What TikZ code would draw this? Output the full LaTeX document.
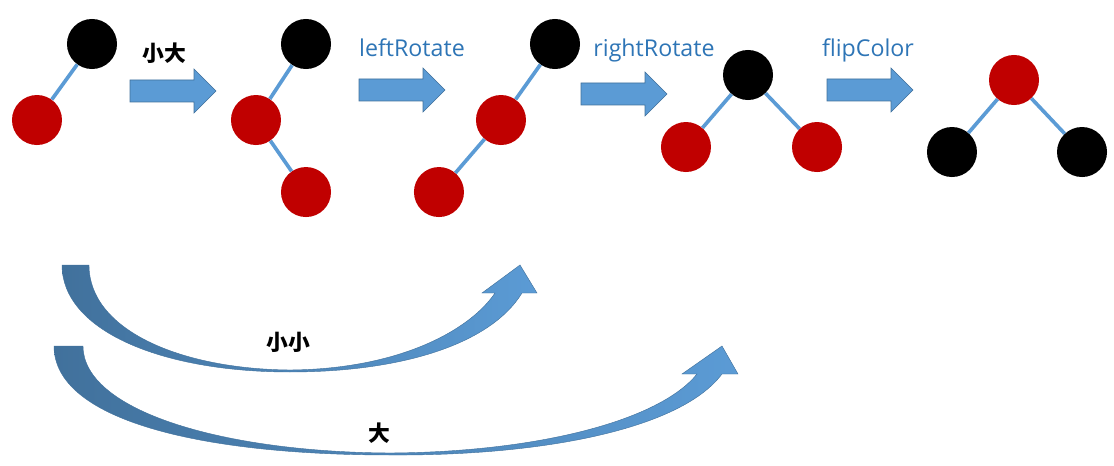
\documentclass[tikz,border=0pt]{standalone}
\usepackage{fontspec}
\setmainfont{Open Sans}
\newfontfamily\cjk{Noto Sans CJK SC}
\usetikzlibrary{positioning}
\definecolor{rbred}{RGB}{192,0,0}
\definecolor{linkblue}{RGB}{91,155,213}
\definecolor{darkblue}{RGB}{65,113,156}
\definecolor{textblue}{RGB}{46,117,182}
\newcommand*{\flatarrow}[2]{\filldraw[fill=linkblue,draw=darkblue,line width=0.4pt]
  (#1,#2-11) -- ++(64,0) -- ++(0,-11) -- ++(22,22) -- ++(-22,22) -- ++(0,-11) -- ++(-64,0) -- cycle;}

\begin{document}
\begin{tikzpicture}[x=0.025cm,y=-0.025cm,on grid,
      rbnode/.style={circle,minimum size=1.25cm,inner sep=0pt},
      rednode/.style={rbnode,fill=rbred},
      blacknode/.style={rbnode,fill=black},
      link/.style={draw=linkblue,line width=2.6pt},
      oplabel/.style={text=textblue,font=\fontsize{16.5}{20}\selectfont,anchor=base},
      cnlabel/.style={font=\cjk\bfseries\fontsize{15.5}{18}\selectfont},
      curvearrow/.style={left color=darkblue,right color=linkblue,draw=darkblue,line width=0.3pt}
      ]
      \useasboundingbox (0,0) rectangle (1114,466);
      % step 1
      \node[blacknode] (a1) at (92,44) {};
      \node[rednode]   (a2) [below left=1.9cm and 1.375cm of a1] {};
      \draw[link] (a1) -- (a2);
      % step 2
      \node[blacknode] (b1) at (306,44) {};
      \node[rednode]   (b2) [below left=1.9cm and 1.25cm of b1] {};
      \node[rednode]   (b3) [below right=1.8cm and 1.25cm of b2] {};
      \draw[link] (b1) -- (b2) -- (b3);
      % step 3
      \node[blacknode] (c1) at (555,44) {};
      \node[rednode]   (c2) [below left=1.9cm and 1.35cm of c1] {};
      \node[rednode]   (c3) [below left=1.8cm and 1.55cm of c2] {};
      \draw[link] (c1) -- (c2) -- (c3);
      % step 4
      \node[blacknode] (d1) at (748,75) {};
      \node[rednode]   (d2) [below left=1.8cm and 1.55cm of d1] {};
      \node[rednode]   (d3) [below right=1.8cm and 1.725cm of d1] {};
      \draw[link] (d2) -- (d1) -- (d3);
      % step 5
      \node[rednode]   (e1) at (1014,80) {};
      \node[blacknode] (e2) [below left=1.8cm and 1.55cm of e1] {};
      \node[blacknode] (e3) [below right=1.8cm and 1.7cm of e1] {};
      \draw[link] (e2) -- (e1) -- (e3);
      % block arrows and their labels
      \flatarrow{130}{91}
      \flatarrow{359}{90}
      \flatarrow{581}{94}
      \flatarrow{827}{90}
      \node[cnlabel] (l1) at (164,53) {小大};
      \node[oplabel] (l2) at (412,57) {leftRotate};
      \node[oplabel] (l3) at (654,57) {rightRotate};
      \node[oplabel] (l4) at (868,57) {flipColor};
      % curved arrows
      \shadedraw[curvearrow] (62,265) -- (89,265) .. controls (89,330) and (180,369) .. (290,370)
        .. controls (400,369) and (470,330) .. (495,293) -- (482,293) -- (520,265) -- (537,293) -- (522,293)
        .. controls (490,345) and (400,372) .. (290,372) .. controls (160,372) and (62,330) .. (62,265) -- cycle;
      \shadedraw[curvearrow] (54,346) -- (83,346) .. controls (83,410) and (220,452) .. (390,453)
        .. controls (540,452) and (660,420) .. (697,374) -- (682,374) -- (722,346) -- (738,374) -- (722,374)
        .. controls (680,430) and (540,456) .. (390,455) .. controls (200,455) and (54,420) .. (54,346) -- cycle;
      \node[cnlabel] (l5) at (288,342) {小小};
      \node[cnlabel] (l6) at (379,433) {大};
\end{tikzpicture}
\end{document}
